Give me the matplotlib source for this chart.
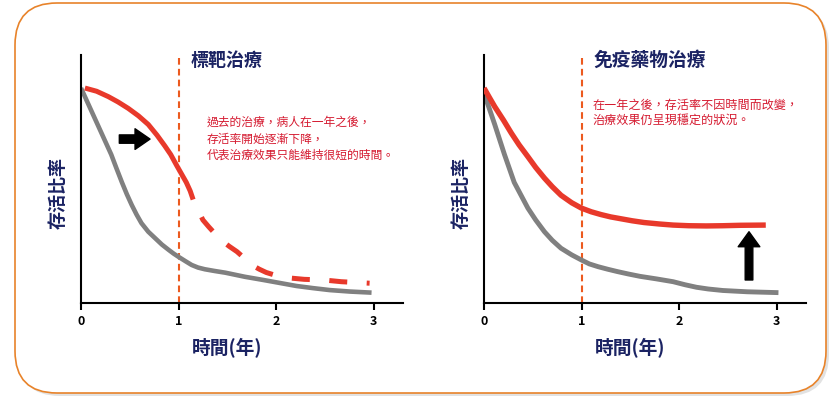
import matplotlib
matplotlib.use('Agg')
import matplotlib.pyplot as plt
from matplotlib.patches import FancyBboxPatch
from matplotlib.transforms import IdentityTransform

plt.rcParams['font.family'] = ['Noto Sans CJK TC', 'DejaVu Sans']

# 左圖：標靶治療 (時間 年, 存活比率)
left_gray_t = [0, 0.05, 0.11, 0.16, 0.21, 0.26, 0.31, 0.36, 0.42, 0.47, 0.52, 0.57, 0.62, 0.69, 0.76, 0.83,
               0.90, 0.95, 1.0, 1.07, 1.135, 1.2, 1.27, 1.37, 1.48, 1.68, 1.87, 2.04, 2.21, 2.38, 2.55, 2.76, 2.98]
left_gray_v = [1.0, 0.95, 0.89, 0.84, 0.79, 0.74, 0.69, 0.63, 0.56, 0.505, 0.455, 0.41, 0.37, 0.33, 0.30, 0.27,
               0.245, 0.228, 0.213, 0.193, 0.175, 0.163, 0.155, 0.147, 0.139, 0.12, 0.105, 0.091, 0.077, 0.067, 0.058, 0.051, 0.046]
left_red_t = [0.04, 0.16, 0.28, 0.38, 0.485, 0.59, 0.69, 0.78, 0.86, 0.92, 0.98, 1.03, 1.08, 1.12, 1.15]
left_red_v = [1.0, 0.985, 0.96, 0.935, 0.905, 0.87, 0.83, 0.78, 0.73, 0.69, 0.64, 0.60, 0.56, 0.52, 0.48]
left_dash_t = [1.15, 1.25, 1.31, 1.38, 1.44, 1.52, 1.6, 1.68, 1.75, 1.83, 1.9, 2.0, 2.1, 2.29, 2.49, 2.67, 2.87, 2.96]
left_dash_v = [0.48, 0.385, 0.353, 0.318, 0.29, 0.262, 0.237, 0.205, 0.175, 0.155, 0.14, 0.126, 0.116, 0.108, 0.105, 0.097, 0.092, 0.09]

# 右圖：免疫藥物治療
right_gray_t = [0, 0.05, 0.11, 0.16, 0.21, 0.26, 0.31, 0.38, 0.45, 0.53, 0.62, 0.70, 0.79, 0.9, 1.0, 1.08,
                1.17, 1.27, 1.37, 1.48, 1.6, 1.77, 1.94, 2.06, 2.18, 2.3, 2.45, 2.7, 3.02]
right_gray_v = [0.975, 0.91, 0.83, 0.76, 0.69, 0.625, 0.56, 0.50, 0.44, 0.385, 0.33, 0.29, 0.253, 0.222, 0.198, 0.18,
                0.167, 0.155, 0.144, 0.133, 0.122, 0.11, 0.097, 0.083, 0.071, 0.063, 0.056, 0.05, 0.046]
right_red_t = [0, 0.05, 0.11, 0.2, 0.28, 0.36, 0.45, 0.53, 0.62, 0.70, 0.79, 0.9, 1.0, 1.1, 1.2, 1.3,
               1.41, 1.52, 1.64, 1.8, 1.94, 2.1, 2.28, 2.45, 2.63, 2.89]
right_red_v = [1.0, 0.96, 0.913, 0.85, 0.79, 0.735, 0.68, 0.63, 0.58, 0.54, 0.50, 0.465, 0.44, 0.423, 0.41, 0.399,
               0.39, 0.381, 0.373, 0.366, 0.361, 0.358, 0.357, 0.358, 0.36, 0.361]

ticks = [0, 1, 2, 3]
titles = ['標靶治療', '免疫藥物治療']
notes = ['過去的治療，病人在一年之後，\n存活率開始逐漸下降，\n代表治療效果只能維持很短的時間。',
         '在一年之後，存活率不因時間而改變，\n治療效果仍呈現穩定的狀況。']

RED = '#e8392b'
GRAY = '#808080'
NAVY = '#1b2363'
NOTE = '#d51a30'
ORANGE = '#ec5a1f'

fig = plt.figure(figsize=(8.4, 3.96), dpi=100)

# 外框 (圓角 + 陰影)
shadow = FancyBboxPatch((18, 0), 811, 390, boxstyle='round,pad=0,rounding_size=42',
                        transform=IdentityTransform(), facecolor='#e2e2e2', edgecolor='none', zorder=-3)
box = FancyBboxPatch((15, 3), 811, 390, boxstyle='round,pad=0,rounding_size=42',
                     transform=IdentityTransform(), facecolor='white', edgecolor='#e8832a',
                     linewidth=1.2, zorder=-2)
fig.patches.extend([shadow, box])

ax1 = fig.add_axes([81 / 840, 0.2361, 3.3 * 97.5 / 840, 0.625])
ax2 = fig.add_axes([484 / 840, 0.2361, 3.3 * 97.5 / 840, 0.625])

for ax, title, tsize in zip([ax1, ax2], titles, [13, 13.5]):
    ax.set_facecolor('none')
    ax.set_xlim(0, 3.3)
    ax.set_ylim(0, 1.154)
    for s in ['top', 'right']:
        ax.spines[s].set_visible(False)
    ax.spines['left'].set_linewidth(1.5)
    ax.spines['bottom'].set_linewidth(1.5)
    ax.set_yticks([])
    ax.set_xticks(ticks)
    ax.tick_params(axis='x', length=5, width=1.5, pad=4, labelsize=9)
    for lb in ax.get_xticklabels():
        lb.set_fontweight('bold')
    ax.axvline(1, color=ORANGE, lw=1.5, linestyle=(0, (3.2, 2.0)), zorder=1)
    ax.text(1.12, 1.13, title, fontsize=tsize, color=NAVY, fontweight='bold', va='center', ha='left')
    ax.text(1.5, -0.183, '時間(年)', transform=ax.get_xaxis_transform(), fontsize=13.5,
            color=NAVY, fontweight='bold', ha='center', va='center')
    ax.text(-0.07, 0.441, '存活比率', transform=ax.transAxes, fontsize=13, color=NAVY,
            fontweight='bold', rotation=90, ha='center', va='center')

# 左圖曲線
ax1.plot(left_gray_t, left_gray_v, color=GRAY, lw=3.3, solid_capstyle='butt', solid_joinstyle='round', zorder=2)
ax1.plot(left_red_t, left_red_v, color=RED, lw=3.6, solid_capstyle='butt', solid_joinstyle='round', zorder=3)
ax1.plot(left_dash_t, left_dash_v, color=RED, lw=3.6, linestyle=(3.6, (3.6, 3.9)),
         dash_joinstyle='round', zorder=3)
ax1.annotate('', xy=(0.708, 0.762), xytext=(0.393, 0.762),
             arrowprops=dict(arrowstyle='simple,head_length=10.8,head_width=14.9,tail_width=6',
                             mutation_scale=1, color='black', shrinkA=0, shrinkB=0))
ax1.text(1.29, 0.762, notes[0], fontsize=8.5, color=NOTE, ha='left', va='center', linespacing=1.35)

# 右圖曲線
ax2.plot(right_gray_t, right_gray_v, color=GRAY, lw=3.5, solid_capstyle='butt', solid_joinstyle='round', zorder=2)
ax2.plot(right_red_t, right_red_v, color=RED, lw=3.9, solid_capstyle='butt', solid_joinstyle='round', zorder=3)
ax2.annotate('', xy=(2.718, 0.33), xytext=(2.718, 0.105),
             arrowprops=dict(arrowstyle='simple,head_length=10.8,head_width=15.6,tail_width=5.5',
                             mutation_scale=1, color='black', shrinkA=0, shrinkB=0))
ax2.text(1.11, 0.883, notes[1], fontsize=8.7, color=NOTE, ha='left', va='center', linespacing=1.2)

fig.savefig('out.png', dpi=100)
